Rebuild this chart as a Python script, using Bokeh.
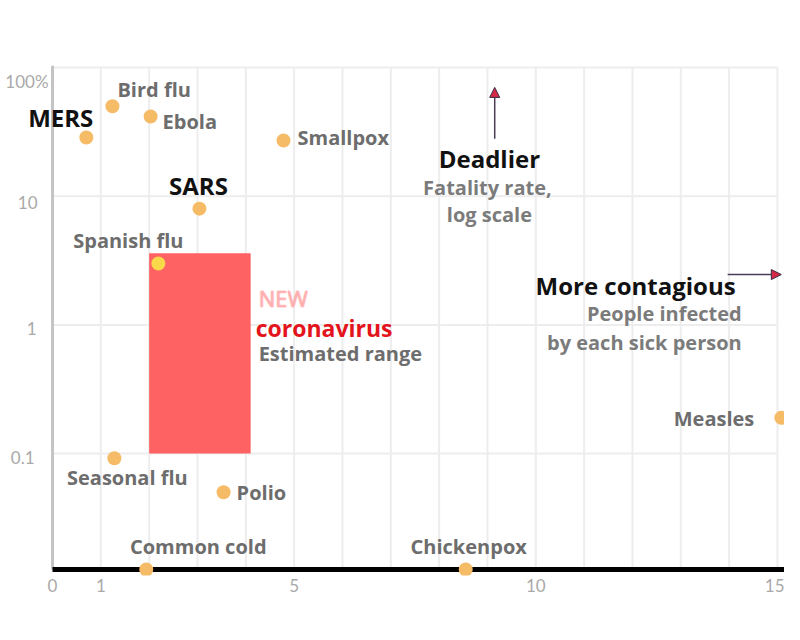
from bokeh.plotting import figure
from bokeh.models import Range1d, FixedTicker, Arrow, NormalHead, Label
from bokeh.core.properties import value
from bokeh.embed import file_html
from bokeh.resources import INLINE

# ---------------- data ----------------
diseases = ["MERS", "Bird flu", "Ebola", "Smallpox", "SARS", "Spanish flu",
            "Seasonal flu", "Polio", "Common cold", "Chickenpox", "Measles"]
contagiousness = [0.70, 1.24, 2.03, 4.78, 3.04, 2.19, 1.28, 3.54, 1.94, 8.55, 15.08]
FLOOR = 0.01256  # ~0 % fatality, drawn on the baseline
fatality = [28.6, 50, 41.6, 27.1, 8.0, 3.0, 0.092, 0.050, FLOOR, FLOOR, 0.19]

corona_r0 = [2.0, 4.1]
corona_fatality = [0.1, 3.6]

x_ticks = [0, 1, 5, 10, 15]
x_grid = list(range(1, 16))
y_ticks = [0.1, 1, 10, 100]
y_tick_labels = ["0.1", "1", "10", "100%"]

X_MIN, X_MAX = -1.076, 15.146
Y_MIN, Y_MAX = 0.01129, 103.6

# ---------------- styles ----------------
FONT = "Open Sans"
GRAY = "#6d6d6d"
LGRAY = "#7b7b7b"
TICK = "#a9a9a9"
GRID = "#ededed"
# name: (align, x_offset, y_offset(down), color, size)
label_style = {
    "MERS": ("right", 7, -20, "#111111", "24px"),
    "Bird flu": ("left", 5, -17, GRAY, "20px"),
    "Ebola": ("left", 12, 5, GRAY, "20px"),
    "Smallpox": ("left", 14, -3, GRAY, "20px"),
    "SARS": ("center", -1, -23, "#111111", "24px"),
    "Spanish flu": ("center", -30, -23, GRAY, "20px"),
    "Seasonal flu": ("center", 13, 19, GRAY, "20px"),
    "Polio": ("left", 13, 0, GRAY, "20px"),
    "Common cold": ("center", 52, -23, GRAY, "20px"),
    "Chickenpox": ("center", 3, -23, GRAY, "20px"),
    "Measles": ("right", -27, 1, GRAY, "20px"),
}
point_color = {"Spanish flu": "#f9d84a"}
ytick_x_off = [-18, -16, -15, -4]
ytick_y_off = [4, 4, 6, 14]

p = figure(width=784, height=624, output_backend="svg", toolbar_location=None,
           y_axis_type="log",
           x_range=Range1d(X_MIN, X_MAX), y_range=Range1d(Y_MIN, Y_MAX),
           min_border_left=0, min_border_right=0, min_border_top=65,
           min_border_bottom=49)
p.outline_line_color = None
p.background_fill_color = "white"
p.border_fill_color = "white"
p.grid.visible = False
p.yaxis.visible = False

# x axis (labels only; the baseline is drawn below)
p.xaxis.ticker = FixedTicker(ticks=x_ticks)
p.xaxis.major_label_overrides = {t: str(t) for t in x_ticks}
p.xaxis.axis_line_color = None
p.xaxis.major_tick_line_color = None
p.xaxis.minor_tick_line_color = None
p.xaxis.major_label_text_font = "Lato"
p.xaxis.major_label_text_color = TICK
p.xaxis.major_label_text_font_size = "17px"
p.xaxis.major_label_standoff = -3

# grid lines
p.segment(x0=x_grid, x1=x_grid, y0=[FLOOR] * len(x_grid), y1=[100] * len(x_grid),
          line_color=GRID, line_width=2)
p.segment(x0=[0] * len(y_ticks), x1=[15] * len(y_ticks), y0=y_ticks, y1=y_ticks,
          line_color=GRID, line_width=2)

# y axis line and labels
p.segment(x0=[0], x1=[0], y0=[FLOOR], y1=[Y_MAX], line_color="#c4c4c4", line_width=3)
p.text(x=[0] * len(y_ticks), y=y_ticks, text=y_tick_labels, text_align="right",
       text_baseline="middle", x_offset=ytick_x_off, y_offset=ytick_y_off,
       text_color=TICK, text_font=value("Lato"), text_font_size="17px")

# coronavirus estimated range
p.quad(left=[corona_r0[0]], right=[corona_r0[1]],
       bottom=[corona_fatality[0]], top=[corona_fatality[1]],
       fill_color="#ff5a5a", fill_alpha=0.95, line_color=None)

# baseline
p.segment(x0=[0], x1=[X_MAX], y0=[FLOOR], y1=[FLOOR], line_color="#000000", line_width=5)

# points
colors = [point_color.get(d, "#f6bb66") for d in diseases]
p.scatter(contagiousness, fatality, size=14, fill_color=colors, line_color=None)


def label(x, y, text, align, xo, yo, color, size, style="bold", alpha=1.0):
    p.add_layout(Label(x=x, y=y, text=text, text_align=align, text_baseline="middle",
                       x_offset=xo, y_offset=-yo, text_color=color, text_alpha=alpha,
                       text_font=FONT, text_font_style=style, text_font_size=size))


# disease labels
for d, xv, yv in zip(diseases, contagiousness, fatality):
    al, xo, yo, col, sz = label_style[d]
    label(xv, yv, d, al, xo, yo, col, sz)

# coronavirus annotation (neon "NEW": soft glow + light core)
cx, cy = corona_r0[1], 1
for gx, gy in [(-1, 0), (1, 0), (0, -1), (0, 1)]:
    label(cx, cy, "NEW", "left", 8 + gx, -27 + gy, "#ff3b3b", "22px", style="normal", alpha=0.18)
label(cx, cy, "NEW", "left", 8, -27, "#ffb0b0", "22px", style="normal")
label(cx, cy, "coronavirus", "left", 5, 3, "#e3141b", "23px")
label(cx, cy, "Estimated range", "left", 8, 29, GRAY, "20px")

# Deadlier annotation
dx, dy = 9.04, 10
label(dx, dy, "Deadlier", "center", 0, -38, "#111111", "24px")
label(dx, dy, "Fatality rate,", "center", -2, -9, LGRAY, "20px")
label(dx, dy, "log scale", "center", 0, 18, LGRAY, "20px")
p.add_layout(Arrow(end=NormalHead(size=10, fill_color="#d42a45", line_color="#3b2b44",
                                  line_width=1),
                   x_start=9.15, y_start=28.0, x_end=9.15, y_end=70,
                   line_color="#4b3d57", line_width=1.5))

# More contagious annotation
mx, my = 14.26, 1
label(mx, my, "More contagious", "right", -6, -39, "#111111", "24px")
label(mx, my, "People infected", "right", 0, -11, LGRAY, "20px")
label(mx, my, "by each sick person", "right", 0, 18, LGRAY, "20px")
p.add_layout(Arrow(end=NormalHead(size=10, fill_color="#d42a45", line_color="#3b2b44",
                                  line_width=1),
                   x_start=13.97, y_start=2.46, x_end=15.08, y_end=2.46,
                   line_color="#4b3d57", line_width=1.5))

open("out.html", "w").write(file_html(p, INLINE))
